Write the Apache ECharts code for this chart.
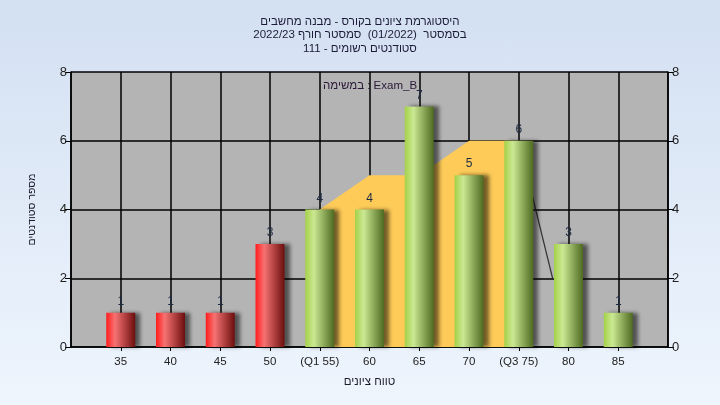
<!DOCTYPE html>
<html>
<head>
<meta charset="utf-8">
<script src="https://cdn.jsdelivr.net/npm/echarts@6/dist/echarts.min.js"></script>
<style>
html,body{margin:0;padding:0;}
#c{width:720px;height:405px;background:linear-gradient(180deg,#d3e0f2 0%,#eef5fd 100%);}
</style>
</head>
<body>
<div id="c"></div>
<script>
var titleLines = [
  'היסטוגרמת ציונים בקורס - מבנה מחשבים',
  'בסמסטר  (01/2022)  סמסטר חורף 2022/23',
  'סטודנטים רשומים - 111'
];
var taskLabel = 'במשימה : Exam_B';
var xAxisTitle = 'טווח ציונים';
var yAxisTitle = 'מספר סטודנטים';

var grades = [35, 40, 45, 50, 55, 60, 65, 70, 75, 80, 85];
var counts = [1, 1, 1, 3, 4, 4, 7, 5, 6, 3, 1];
var passGrade = 55;
var q1 = 55, q3 = 75;
var bandGrades = [55, 60, 65, 70, 75];
var bandValues = [4, 5, 5, 6, 6];
var edgeLine = [[75, 6], [78.4, 2]];

var redGrad = {type:'linear',x:0,y:0,x2:1,y2:0,colorStops:[
  {offset:0,color:'#ff1c1c'},{offset:0.3,color:'#f77272'},{offset:1,color:'#6b0e0e'}]};
var greenGrad = {type:'linear',x:0,y:0,x2:1,y2:0,colorStops:[
  {offset:0,color:'#a4d148'},{offset:0.3,color:'#cbe893'},{offset:1,color:'#4d6a20'}]};

var barData = grades.map(function(g, i){
  return {value:[g, counts[i]], itemStyle:{color: g < passGrade ? redGrad : greenGrad}};
});

var font = '"Liberation Sans", Arial, sans-serif';
var chart = echarts.init(document.getElementById('c'));
chart.setOption({
  backgroundColor: 'transparent',
  animation: false,
  textStyle: {fontFamily: font},
  title: {
    text: titleLines.join('\n'),
    left: 'center', top: 10,
    textStyle: {fontSize: 11.5, fontWeight: 'normal', color: '#1c1c3a', lineHeight: 13.5, fontFamily: font}
  },
  graphic: [{
    type: 'text', left: 323, top: 80,
    style: {text: taskLabel, fontSize: 11.5, fill: '#2a1838', fontFamily: font}
  }],
  grid: {left: 71, right: 52, top: 72, bottom: 58, show: true, backgroundColor: '#b4b4b4', borderWidth: 0},
  xAxis: {
    type: 'value', min: 30, max: 90, interval: 5,
    name: xAxisTitle, nameLocation: 'middle', nameGap: 29,
    nameTextStyle: {fontSize: 11.5, color: '#1a1a2a', fontFamily: font},
    axisLine: {show: true, lineStyle: {color: '#000', width: 1.5}},
    axisTick: {show: true, length: 4, lineStyle: {color: '#000'}},
    axisLabel: {
      fontSize: 11.5, color: '#222', margin: 9, showMinLabel: false, showMaxLabel: false,
      formatter: function(v){
        if (v === q1) return '(Q1 ' + v + ')';
        if (v === q3) return '(Q3 ' + v + ')';
        return String(v);
      }
    },
    splitLine: {show: true, lineStyle: {color: '#000', width: 1.5}}
  },
  yAxis: [{
    type: 'value', min: 0, max: 8, interval: 2, position: 'left',
    name: yAxisTitle, nameLocation: 'middle', nameGap: 33, nameRotate: 90,
    nameTextStyle: {fontSize: 10.5, color: '#1a1a2a', fontFamily: font},
    axisLine: {show: true, lineStyle: {color: '#000', width: 1.5}},
    axisTick: {show: true, length: 6, lineStyle: {color: '#000'}},
    axisLabel: {fontSize: 13, color: '#222', margin: 4},
    splitLine: {show: true, lineStyle: {color: '#000', width: 1.5}}
  }, {
    type: 'value', min: 0, max: 8, interval: 2, position: 'right',
    axisLine: {show: true, lineStyle: {color: '#000', width: 1.5}},
    axisTick: {show: true, length: 6, lineStyle: {color: '#000'}},
    axisLabel: {fontSize: 13, color: '#222', margin: 4},
    splitLine: {show: false}
  }],
  series: [{
    type: 'line', z: 1,
    data: bandGrades.map(function(g, i){ return [g, bandValues[i]]; }),
    symbol: 'none', lineStyle: {width: 0},
    areaStyle: {color: '#fecb58', opacity: 1}
  }, {
    type: 'line', z: 1, data: edgeLine, symbol: 'none',
    lineStyle: {color: '#333', width: 1.2}
  }, {
    type: 'bar', z: 3, barWidth: 29, data: barData,
    itemStyle: {shadowColor: 'rgba(0,0,0,0.55)', shadowOffsetX: 5, shadowOffsetY: 0, shadowBlur: 4},
    label: {show: true, position: 'top', distance: 5, fontSize: 12, color: '#1c2a44', fontFamily: font,
      formatter: function(p){ return p.value[1]; }}
  }]
});
</script>
</body>
</html>
